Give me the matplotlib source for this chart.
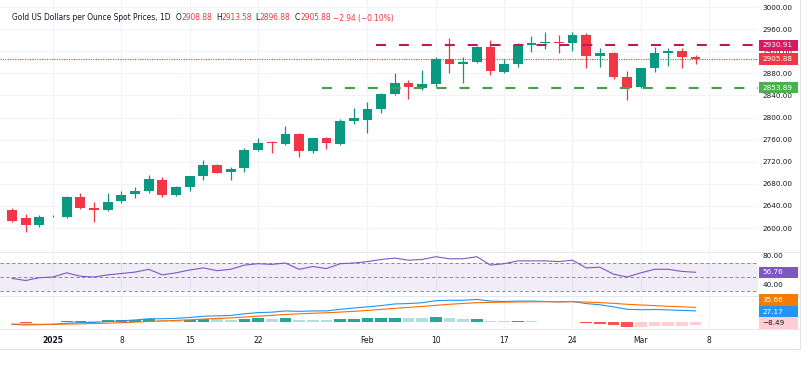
import matplotlib
matplotlib.use('Agg')
import matplotlib.pyplot as plt
from matplotlib.lines import Line2D
from matplotlib.patches import Rectangle
import numpy as np

W, H = 808, 374

# daily OHLC, 51 sessions (late Dec 2024 .. Mar 7 2025)
opens = [2632.6, 2618, 2605, 2621, 2620, 2656, 2636, 2632.6, 2649, 2661, 2667, 2687, 2660, 2674, 2694,
         2714, 2701, 2708, 2741, 2755, 2752, 2770, 2739, 2763, 2752, 2794, 2796, 2815, 2842, 2862,
         2853, 2860, 2906, 2897, 2900, 2927, 2882, 2897, 2932, 2934, 2936.5, 2935, 2949, 2911, 2917,
         2873, 2855, 2889.6, 2917, 2920, 2908.88]
highs = [2636, 2625, 2623.5, 2623, 2658, 2663, 2647, 2663, 2667, 2674, 2696, 2692, 2676, 2694, 2723,
         2716, 2710, 2745, 2763, 2757, 2785, 2772, 2763, 2765, 2797, 2817, 2828, 2844, 2880, 2868,
         2886, 2909, 2944, 2909, 2929, 2940, 2906, 2935, 2947.5, 2955, 2949, 2955, 2953, 2926, 2918.5,
         2884, 2890, 2927.6, 2926, 2926, 2913.58]
lows = [2611, 2593, 2602, 2620, 2618, 2635, 2611, 2631, 2645, 2654, 2663, 2656, 2658, 2667, 2687,
        2699, 2687, 2701, 2739, 2736, 2750, 2728.5, 2735, 2743, 2750, 2788, 2772, 2808, 2841, 2833.5,
        2850, 2855, 2880.5, 2862, 2898, 2877, 2880.5, 2891, 2918.5, 2924, 2917, 2920, 2889.6, 2891, 2869.6,
        2831.7, 2853, 2882.4, 2893, 2889.6, 2896.88]
closes = [2612.7, 2605, 2620, 2622, 2656, 2636, 2632, 2647, 2660, 2667, 2689, 2660, 2674, 2694, 2714,
          2700, 2707, 2741, 2754, 2753, 2770, 2739, 2763, 2754, 2794, 2799, 2815, 2842, 2862, 2855,
          2860, 2906, 2897, 2900, 2927, 2884, 2897, 2931, 2934, 2936, 2935, 2949, 2911, 2917, 2873,
          2853, 2889.6, 2916.7, 2920, 2909.5, 2905.88]

rsi = [48, 45, 49, 50, 56, 51, 50, 53, 55, 57, 61, 53, 56, 60, 63, 59, 61, 67, 69, 68, 70, 61, 65, 62,
       69, 70, 72, 75, 77, 74, 75, 79, 76, 76, 79, 67, 69, 73, 73, 73, 72, 74, 63, 64, 54, 50, 56, 61,
       61, 58, 56.76]

macd = [-6, -7, -6.5, -5.5, -3, -1.5, -1, 1, 3, 5, 8, 8, 9, 11, 14, 15, 16, 20, 23, 24, 27, 26, 27, 27,
        31, 34, 37, 40, 44, 45, 47, 52, 53, 53, 55, 51, 50, 51, 51, 50, 49, 50, 45, 42, 37, 31, 30,
        30.5, 29.5, 28.3, 27.17]
signal = [-5.0, -5.4, -5.6, -5.6, -5.1, -4.4, -3.7, -2.8, -1.6, -0.3, 1.4, 2.7, 4.0, 5.4, 7.1, 8.7,
          10.1, 12.1, 14.3, 16.2, 18.4, 19.9, 21.3, 22.5, 24.2, 26.1, 28.3, 30.7, 33.3, 35.7, 37.9,
          40.7, 43.2, 45.2, 47.1, 47.9, 48.3, 48.9, 49.3, 49.4, 49.3, 49.5, 48.6, 47.3, 45.5, 43.2,
          41.5, 39.9, 38.4, 37.0, 35.66]

date_idx = [3, 8, 13, 18, 26, 31, 36, 41, 46, 51]
date_lbl = ['2025', '8', '15', '22', 'Feb', '10', '17', '24', 'Mar', '8']

resist, resist_from = 2930.91, 27
support, support_from = 2853.89, 23
last = 2905.88

GREEN, RED = '#089981', '#F23645'
TXT = '#131722'
GRID = '#f0f3fa'
FS = 5.2

plt.rcParams['font.family'] = 'DejaVu Sans'
fig = plt.figure(figsize=(W / 100, H / 100), dpi=100)
fig.patch.set_facecolor('white')

XMIN, XMAX = -0.88, 54.57


def px_axes(top, bottom):
    a = fig.add_axes([0, 1 - bottom / H, 758 / W, (bottom - top) / H])
    a.set_xlim(XMIN, XMAX)
    for s in a.spines.values():
        s.set_visible(False)
    a.yaxis.tick_right()
    a.tick_params(axis='y', length=0, pad=3.4, labelsize=FS, labelcolor=TXT)
    a.tick_params(axis='x', length=0)
    a.set_xticks(date_idx)
    a.set_xticklabels([])
    a.grid(True, color=GRID, lw=0.8)
    a.set_axisbelow(True)
    return a


ax = px_axes(0, 251)
ax_rsi = px_axes(252, 295)
ax_m = px_axes(296, 328)

# --- candles
x = np.arange(len(closes))
o, h, l, c = map(np.array, (opens, highs, lows, closes))
cols = np.where(c >= o, GREEN, RED)
ax.vlines(x, l, h, colors=cols, lw=0.9, zorder=2)
ax.bar(x, np.maximum(np.abs(c - o), 1.6), bottom=np.minimum(o, c), width=0.72, color=cols, zorder=3)
ax.set_ylim(2558.4, 3012.7)
yt = np.arange(2600, 3001, 40)
ax.set_yticks(yt)
ax.set_yticklabels(['%.2f' % v for v in yt])

ax.plot([XMIN, XMAX], [last, last], color=RED, lw=0.8, ls=(0, (1, 1.2)), zorder=2)
ax.plot([resist_from - 0.35, XMAX], [resist, resist], color='#C2185B', lw=1.5, dashes=(4.8, 6.2), zorder=4)
ax.plot([support_from - 0.35, XMAX], [support, support], color='#43A047', lw=1.5, dashes=(4.8, 6.2), zorder=4)

# --- RSI
ax_rsi.fill_between([XMIN, XMAX], 30, 70, color='#7E57C2', alpha=0.1, lw=0)
for lv in (70, 50, 30):
    ax_rsi.axhline(lv, color='#787B86', lw=0.6, dashes=(4, 3))
ax_rsi.plot(x, rsi, color='#7E57C2', lw=0.8)
ax_rsi.set_ylim(24.3, 85.7)
ax_rsi.set_yticks([40, 80])
ax_rsi.set_yticklabels(['40.00', '80.00'])
ax_rsi.grid(False, axis='y')

# --- MACD
macd_a, sig_a = np.array(macd), np.array(signal)
hist = macd_a - sig_a
hcols = []
for i, v in enumerate(hist):
    prev = hist[i - 1] if i else v
    if v >= 0:
        hcols.append('#26A69A' if v >= prev else '#B2DFDB')
    else:
        hcols.append('#FFCDD2' if v >= prev else '#FF5252')
ax_m.bar(x, hist, width=0.85, color=hcols, zorder=2)
ax_m.plot(x, macd_a, color='#2196F3', lw=0.8, zorder=3)
ax_m.plot(x, sig_a, color='#FF6D00', lw=0.8, zorder=3)
ax_m.set_ylim(-14.6, 63.4)
ax_m.set_yticks([])
ax_m.grid(False, axis='y')
ax_m.set_xticklabels(date_lbl)
ax_m.tick_params(axis='x', pad=5.5, labelsize=FS + 0.3, labelcolor=TXT)
ax_m.get_xticklabels()[0].set_fontweight('bold')

# separators / border
sep = '#e0e3eb'
for yy in (251.5, 295.5, 328.5):
    fig.add_artist(Line2D([0, 800 / W], [1 - yy / H] * 2, color=sep, lw=0.6))
fig.add_artist(Line2D([800 / W] * 2, [1 - 349 / H, 1], color=sep, lw=0.8))
fig.add_artist(Line2D([0, 800 / W], [1 - 349 / H] * 2, color=sep, lw=0.8))


# --- price-scale label boxes
def label_box(a, yval, text, fc, tc='white'):
    _, ypx = a.transData.transform((0, yval))
    yf = ypx / H
    fig.add_artist(Rectangle((759 / W, yf - 5.6 / H), 39 / W, 11.2 / H, transform=fig.transFigure,
                             facecolor=fc, edgecolor='none', zorder=5))
    fig.text(762 / W, yf, text, color=tc, fontsize=FS, va='center', ha='left', zorder=6)


label_box(ax, resist, '%.2f' % resist, '#D81B60')
label_box(ax, last, '%.2f' % last, RED)
label_box(ax, support, '%.2f' % support, '#4CAF50')
label_box(ax_rsi, rsi[-1], '%.2f' % rsi[-1], '#7E57C2')
macd_label_pos = [53.5, 24.5, -2.5]
label_box(ax_m, macd_label_pos[0], '%.2f' % signal[-1], '#F57C00')
label_box(ax_m, macd_label_pos[1], '%.2f' % macd[-1], '#2196F3')
label_box(ax_m, macd_label_pos[2], '\u2212%.2f' % abs(hist[-1]), '#FFCDD2', TXT)


# --- legend / header texts
def chain(x_px, y_px, parts, fs=FS):
    t = ax.text(x_px / W, 1 - y_px / H, parts[0][0], color=parts[0][1], fontsize=fs,
                transform=fig.transFigure, va='center', ha='left', zorder=7)
    prev = t
    for s, col in parts[1:]:
        prev = ax.annotate(s, xy=(1, 0), xycoords=prev, va='bottom', ha='left', color=col,
                           fontsize=fs, annotation_clip=False, zorder=7)


HFS = 5.45
chain(12, 18, [('Gold US Dollars per Ounce Spot Prices, 1D', TXT)], HFS)
chain(176, 18, [('O', TXT), ('%.2f' % opens[-1], RED)], HFS)
chain(216, 18, [('H', TXT), ('%.2f' % highs[-1], RED)], HFS)
chain(255, 18, [('L', TXT), ('%.2f' % lows[-1], RED)], HFS)
chain(295, 18, [('C', TXT), ('%.2f' % closes[-1], RED)], HFS)
chain(333, 18, [('\u22122.94 (\u22120.10%)', RED)], HFS)

chain(12, 263, [('RSI (14)', TXT), (' 56.76', '#7E57C2')])
chain(12, 307, [('MACD (12, 26, close, 9)', TXT), ('  \u22128.49', '#F8A5AE'),
                ('  27.17', '#2196F3'), ('  35.66', '#FF9800')])

fig.savefig('out.png', dpi=100)
